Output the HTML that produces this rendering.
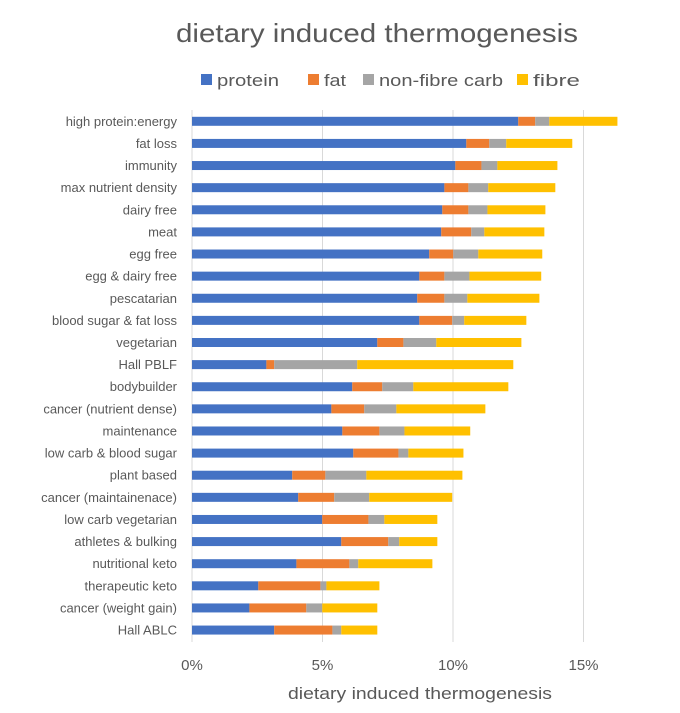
<!DOCTYPE html>
<html><head><meta charset="utf-8"><style>
body{margin:0;background:#fff}
svg{display:block;font-family:"Liberation Sans",sans-serif}
</style></head><body>
<svg id="chart" width="680" height="713" viewBox="0 0 680 713">
<rect x="0" y="0" width="680" height="713" fill="#fff"/>
<text x="377" y="42" text-anchor="middle" font-size="26" fill="#595959" textLength="402" lengthAdjust="spacingAndGlyphs">dietary induced thermogenesis</text>
<g id="legend"></g>
<g id="grid"></g>
<g id="bars"></g>
<g id="ylabels"></g>
<g id="xlabels"></g>
<text x="420" y="699" text-anchor="middle" font-size="17" fill="#595959" textLength="264" lengthAdjust="spacingAndGlyphs">dietary induced thermogenesis</text>
</svg>
<script>
const categories = ["high protein:energy","fat loss","immunity","max nutrient density","dairy free","meat","egg free","egg & dairy free","pescatarian","blood sugar & fat loss","vegetarian","Hall PBLF","bodybuilder","cancer (nutrient dense)","maintenance","low carb & blood sugar","plant based","cancer (maintainenace)","low carb vegetarian","athletes & bulking","nutritional keto","therapeutic keto","cancer (weight gain)","Hall ABLC"];
const protein = [12.5,10.51,10.09,9.67,9.59,9.55,9.09,8.71,8.63,8.71,7.10,2.85,6.14,5.34,5.76,6.18,3.84,4.07,4.99,5.72,4.0,2.54,2.2,3.15];
const fat = [0.65,0.88,1.0,0.92,1.0,1.15,0.92,0.96,1.04,1.26,1.0,0.3,1.15,1.26,1.42,1.73,1.27,1.38,1.77,1.8,2.03,2.38,2.18,2.23];
const carb = [0.54,0.65,0.61,0.76,0.73,0.5,0.96,0.96,0.88,0.46,1.26,3.18,1.19,1.23,0.96,0.38,1.57,1.34,0.61,0.42,0.34,0.23,0.61,0.34];
const fibre = [2.61,2.53,2.3,2.57,2.22,2.3,2.45,2.75,2.76,2.38,3.26,5.98,3.64,3.41,2.52,2.11,3.68,3.18,2.03,1.46,2.84,2.03,2.11,1.38];
const seriesNames = ["protein","fat","non-fibre carb","fibre"];
const colors = ["#4472C4","#ED7D31","#A5A5A5","#FFC000"];
const xTicks = [0,5,10,15];
const xTickLabels = ["0%","5%","10%","15%"];

const NS="http://www.w3.org/2000/svg";
const X0=192, PX=26.1;
function xs(v){return X0+v*PX;}
const Y0=121.3, STEP=22.12, BH=9;
function ys(i){return Y0+i*STEP;}
function mk(tag,attrs,parent){const e=document.createElementNS(NS,tag);for(const k in attrs)e.setAttribute(k,attrs[k]);parent.appendChild(e);return e;}

const grid=document.getElementById('grid');
xTicks.forEach((t,i)=>{
  const l=mk('line',{x1:xs(t),x2:xs(t),y1:110,y2:642,stroke:'#d9d9d9','stroke-width':1},grid);
  
  
  const tx=mk('text',{x:xs(t),y:670,'text-anchor':'middle','font-size':15,fill:'#595959'},document.getElementById('xlabels'));
  tx.textContent=xTickLabels[i];
  
  
});

const bars=document.getElementById('bars');
const series=[protein,fat,carb,fibre];
categories.forEach((c,i)=>{
  let acc=0;
  series.forEach((s,k)=>{
    const r=mk('rect',{x:xs(acc),y:ys(i)-BH/2,width:s[i]*PX,height:BH,fill:colors[k]},bars);
    
    
    acc+=s[i];
  });
  const t=mk('text',{x:177,y:ys(i)+4.5,'text-anchor':'end','font-size':13,fill:'#595959'},document.getElementById('ylabels'));
  t.textContent=c;
  
  
});

const legend=document.getElementById('legend');
const lx=[201,308,363,517];
const lw=[62,22,124,47];
seriesNames.forEach((n,k)=>{
  const g=mk('g',{},legend);
  
  
  mk('rect',{x:lx[k],y:74,width:11,height:11,fill:colors[k]},g);
  const t=mk('text',{x:lx[k]+16,y:86,'font-size':17,fill:'#595959',textLength:lw[k],lengthAdjust:'spacingAndGlyphs'},g);
  t.textContent=n;
});
</script>
</body></html>
